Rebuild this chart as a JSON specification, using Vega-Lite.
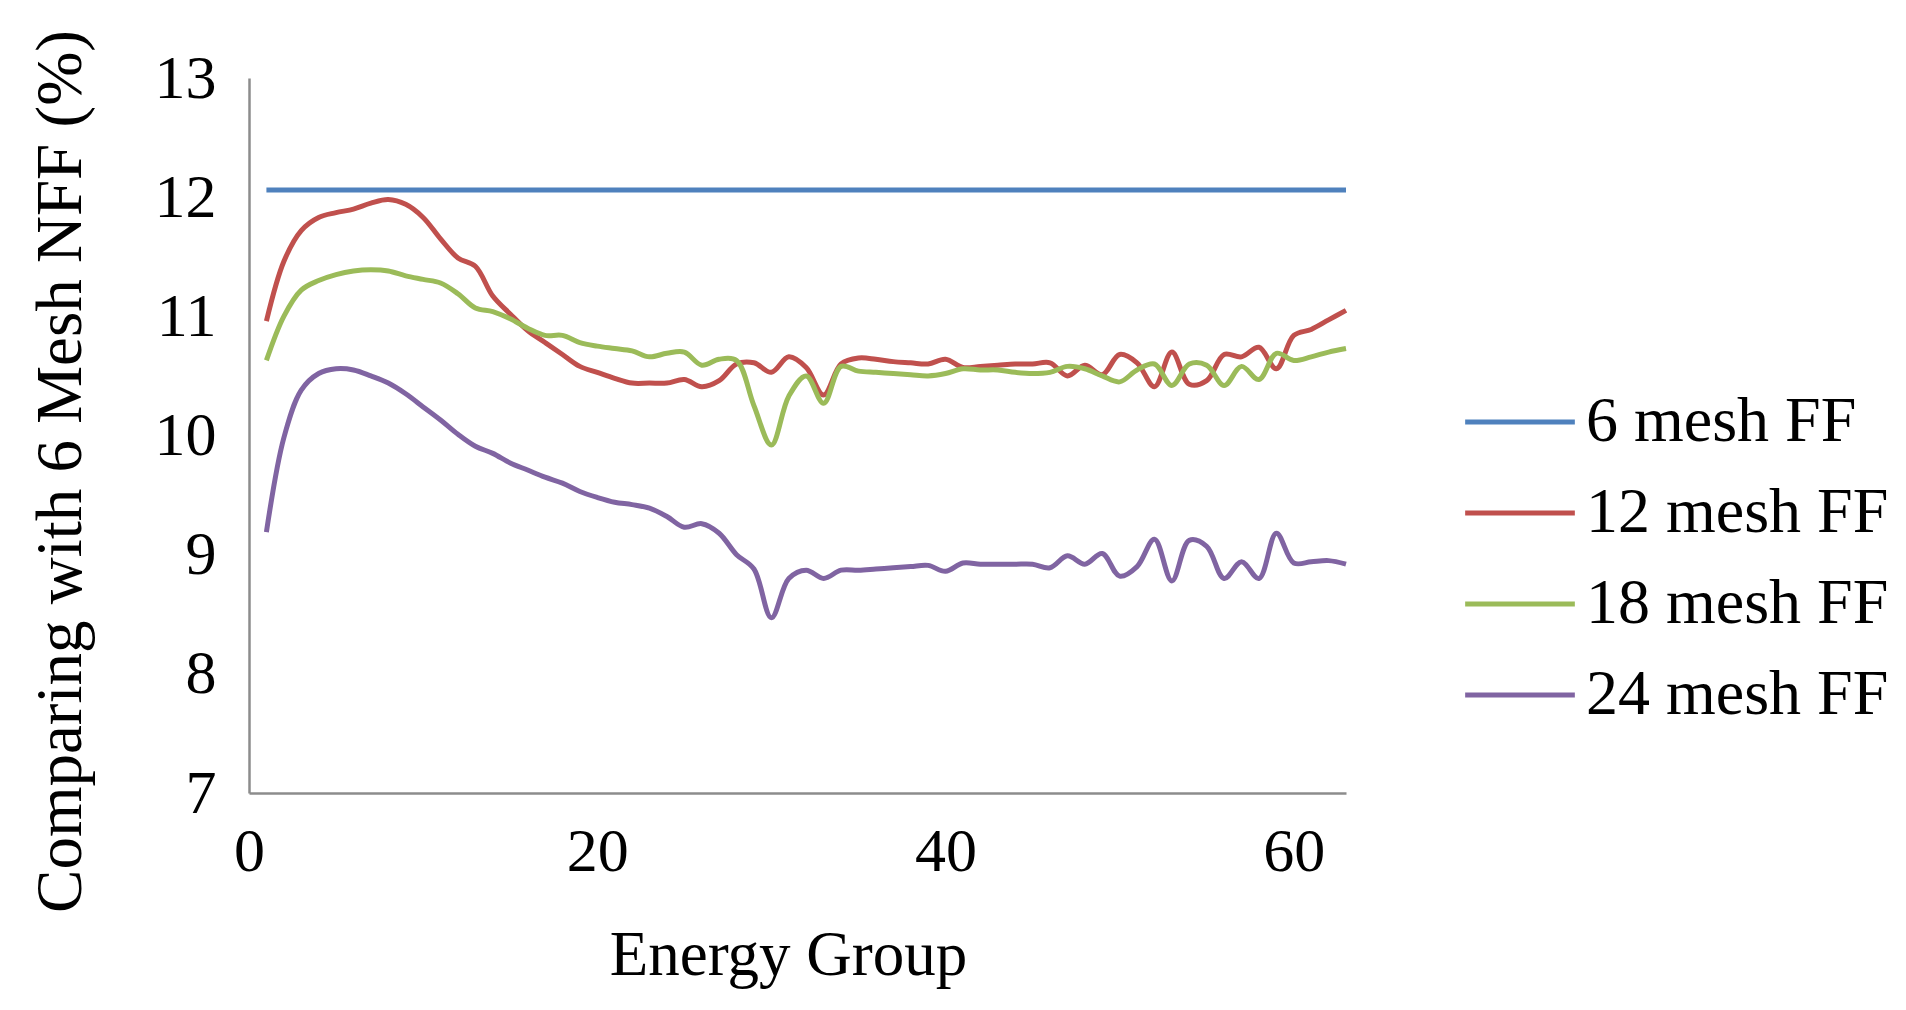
{
  "$schema": "https://vega.github.io/schema/vega-lite/v6.json",
  "width": 1097,
  "height": 715,
  "autosize": {"type": "none"},
  "padding": {"left": 249, "top": 78, "right": 560, "bottom": 217},
  "background": "white",
  "config": {
    "view": {"stroke": null},
    "font": "Liberation Serif",
    "axis": {"grid": false, "ticks": false, "domainColor": "#8c8c8c", "domainWidth": 2.5, "labelColor": "black", "titleColor": "black", "labelFont": "Liberation Serif", "titleFont": "Liberation Serif", "titleFontWeight": "normal"},
    "legend": {"labelFont": "Liberation Serif", "labelColor": "black"}
  },
  "datasets": {
    "d": [
      {"g":1,"s":"6 mesh FF","v":12.06},{"g":2,"s":"6 mesh FF","v":12.06},{"g":3,"s":"6 mesh FF","v":12.06},{"g":4,"s":"6 mesh FF","v":12.06},{"g":5,"s":"6 mesh FF","v":12.06},{"g":6,"s":"6 mesh FF","v":12.06},{"g":7,"s":"6 mesh FF","v":12.06},{"g":8,"s":"6 mesh FF","v":12.06},{"g":9,"s":"6 mesh FF","v":12.06},{"g":10,"s":"6 mesh FF","v":12.06},
      {"g":11,"s":"6 mesh FF","v":12.06},{"g":12,"s":"6 mesh FF","v":12.06},{"g":13,"s":"6 mesh FF","v":12.06},{"g":14,"s":"6 mesh FF","v":12.06},{"g":15,"s":"6 mesh FF","v":12.06},{"g":16,"s":"6 mesh FF","v":12.06},{"g":17,"s":"6 mesh FF","v":12.06},{"g":18,"s":"6 mesh FF","v":12.06},{"g":19,"s":"6 mesh FF","v":12.06},{"g":20,"s":"6 mesh FF","v":12.06},
      {"g":21,"s":"6 mesh FF","v":12.06},{"g":22,"s":"6 mesh FF","v":12.06},{"g":23,"s":"6 mesh FF","v":12.06},{"g":24,"s":"6 mesh FF","v":12.06},{"g":25,"s":"6 mesh FF","v":12.06},{"g":26,"s":"6 mesh FF","v":12.06},{"g":27,"s":"6 mesh FF","v":12.06},{"g":28,"s":"6 mesh FF","v":12.06},{"g":29,"s":"6 mesh FF","v":12.06},{"g":30,"s":"6 mesh FF","v":12.06},
      {"g":31,"s":"6 mesh FF","v":12.06},{"g":32,"s":"6 mesh FF","v":12.06},{"g":33,"s":"6 mesh FF","v":12.06},{"g":34,"s":"6 mesh FF","v":12.06},{"g":35,"s":"6 mesh FF","v":12.06},{"g":36,"s":"6 mesh FF","v":12.06},{"g":37,"s":"6 mesh FF","v":12.06},{"g":38,"s":"6 mesh FF","v":12.06},{"g":39,"s":"6 mesh FF","v":12.06},{"g":40,"s":"6 mesh FF","v":12.06},
      {"g":41,"s":"6 mesh FF","v":12.06},{"g":42,"s":"6 mesh FF","v":12.06},{"g":43,"s":"6 mesh FF","v":12.06},{"g":44,"s":"6 mesh FF","v":12.06},{"g":45,"s":"6 mesh FF","v":12.06},{"g":46,"s":"6 mesh FF","v":12.06},{"g":47,"s":"6 mesh FF","v":12.06},{"g":48,"s":"6 mesh FF","v":12.06},{"g":49,"s":"6 mesh FF","v":12.06},{"g":50,"s":"6 mesh FF","v":12.06},
      {"g":51,"s":"6 mesh FF","v":12.06},{"g":52,"s":"6 mesh FF","v":12.06},{"g":53,"s":"6 mesh FF","v":12.06},{"g":54,"s":"6 mesh FF","v":12.06},{"g":55,"s":"6 mesh FF","v":12.06},{"g":56,"s":"6 mesh FF","v":12.06},{"g":57,"s":"6 mesh FF","v":12.06},{"g":58,"s":"6 mesh FF","v":12.06},{"g":59,"s":"6 mesh FF","v":12.06},{"g":60,"s":"6 mesh FF","v":12.06},
      {"g":61,"s":"6 mesh FF","v":12.06},{"g":62,"s":"6 mesh FF","v":12.06},{"g":63,"s":"6 mesh FF","v":12.06},

      {"g":1,"s":"12 mesh FF","v":10.96},{"g":2,"s":"12 mesh FF","v":11.46},{"g":3,"s":"12 mesh FF","v":11.72},{"g":4,"s":"12 mesh FF","v":11.83},{"g":5,"s":"12 mesh FF","v":11.87},{"g":6,"s":"12 mesh FF","v":11.90},{"g":7,"s":"12 mesh FF","v":11.95},{"g":8,"s":"12 mesh FF","v":11.98},{"g":9,"s":"12 mesh FF","v":11.94},{"g":10,"s":"12 mesh FF","v":11.83},
      {"g":11,"s":"12 mesh FF","v":11.65},{"g":12,"s":"12 mesh FF","v":11.49},{"g":13,"s":"12 mesh FF","v":11.42},{"g":14,"s":"12 mesh FF","v":11.17},{"g":15,"s":"12 mesh FF","v":11.02},{"g":16,"s":"12 mesh FF","v":10.88},{"g":17,"s":"12 mesh FF","v":10.78},{"g":18,"s":"12 mesh FF","v":10.68},{"g":19,"s":"12 mesh FF","v":10.58},{"g":20,"s":"12 mesh FF","v":10.53},
      {"g":21,"s":"12 mesh FF","v":10.48},{"g":22,"s":"12 mesh FF","v":10.44},{"g":23,"s":"12 mesh FF","v":10.44},{"g":24,"s":"12 mesh FF","v":10.44},{"g":25,"s":"12 mesh FF","v":10.47},{"g":26,"s":"12 mesh FF","v":10.41},{"g":27,"s":"12 mesh FF","v":10.46},{"g":28,"s":"12 mesh FF","v":10.60},{"g":29,"s":"12 mesh FF","v":10.61},{"g":30,"s":"12 mesh FF","v":10.53},
      {"g":31,"s":"12 mesh FF","v":10.66},{"g":32,"s":"12 mesh FF","v":10.57},{"g":33,"s":"12 mesh FF","v":10.34},{"g":34,"s":"12 mesh FF","v":10.60},{"g":35,"s":"12 mesh FF","v":10.65},{"g":36,"s":"12 mesh FF","v":10.64},{"g":37,"s":"12 mesh FF","v":10.62},{"g":38,"s":"12 mesh FF","v":10.61},{"g":39,"s":"12 mesh FF","v":10.60},{"g":40,"s":"12 mesh FF","v":10.64},
      {"g":41,"s":"12 mesh FF","v":10.57},{"g":42,"s":"12 mesh FF","v":10.58},{"g":43,"s":"12 mesh FF","v":10.59},{"g":44,"s":"12 mesh FF","v":10.60},{"g":45,"s":"12 mesh FF","v":10.60},{"g":46,"s":"12 mesh FF","v":10.61},{"g":47,"s":"12 mesh FF","v":10.50},{"g":48,"s":"12 mesh FF","v":10.59},{"g":49,"s":"12 mesh FF","v":10.51},{"g":50,"s":"12 mesh FF","v":10.68},
      {"g":51,"s":"12 mesh FF","v":10.61},{"g":52,"s":"12 mesh FF","v":10.41},{"g":53,"s":"12 mesh FF","v":10.70},{"g":54,"s":"12 mesh FF","v":10.43},{"g":55,"s":"12 mesh FF","v":10.46},{"g":56,"s":"12 mesh FF","v":10.68},{"g":57,"s":"12 mesh FF","v":10.66},{"g":58,"s":"12 mesh FF","v":10.74},{"g":59,"s":"12 mesh FF","v":10.56},{"g":60,"s":"12 mesh FF","v":10.84},
      {"g":61,"s":"12 mesh FF","v":10.89},{"g":62,"s":"12 mesh FF","v":10.97},{"g":63,"s":"12 mesh FF","v":11.05},

      {"g":1,"s":"18 mesh FF","v":10.63},{"g":2,"s":"18 mesh FF","v":11.00},{"g":3,"s":"18 mesh FF","v":11.22},{"g":4,"s":"18 mesh FF","v":11.30},{"g":5,"s":"18 mesh FF","v":11.35},{"g":6,"s":"18 mesh FF","v":11.38},{"g":7,"s":"18 mesh FF","v":11.39},{"g":8,"s":"18 mesh FF","v":11.38},{"g":9,"s":"18 mesh FF","v":11.34},{"g":10,"s":"18 mesh FF","v":11.31},
      {"g":11,"s":"18 mesh FF","v":11.28},{"g":12,"s":"18 mesh FF","v":11.19},{"g":13,"s":"18 mesh FF","v":11.07},{"g":14,"s":"18 mesh FF","v":11.04},{"g":15,"s":"18 mesh FF","v":10.98},{"g":16,"s":"18 mesh FF","v":10.90},{"g":17,"s":"18 mesh FF","v":10.84},{"g":18,"s":"18 mesh FF","v":10.84},{"g":19,"s":"18 mesh FF","v":10.78},{"g":20,"s":"18 mesh FF","v":10.75},
      {"g":21,"s":"18 mesh FF","v":10.73},{"g":22,"s":"18 mesh FF","v":10.71},{"g":23,"s":"18 mesh FF","v":10.66},{"g":24,"s":"18 mesh FF","v":10.69},{"g":25,"s":"18 mesh FF","v":10.70},{"g":26,"s":"18 mesh FF","v":10.59},{"g":27,"s":"18 mesh FF","v":10.64},{"g":28,"s":"18 mesh FF","v":10.63},{"g":29,"s":"18 mesh FF","v":10.25},{"g":30,"s":"18 mesh FF","v":9.92},
      {"g":31,"s":"18 mesh FF","v":10.33},{"g":32,"s":"18 mesh FF","v":10.50},{"g":33,"s":"18 mesh FF","v":10.27},{"g":34,"s":"18 mesh FF","v":10.58},{"g":35,"s":"18 mesh FF","v":10.54},{"g":36,"s":"18 mesh FF","v":10.53},{"g":37,"s":"18 mesh FF","v":10.52},{"g":38,"s":"18 mesh FF","v":10.51},{"g":39,"s":"18 mesh FF","v":10.50},{"g":40,"s":"18 mesh FF","v":10.52},
      {"g":41,"s":"18 mesh FF","v":10.56},{"g":42,"s":"18 mesh FF","v":10.55},{"g":43,"s":"18 mesh FF","v":10.55},{"g":44,"s":"18 mesh FF","v":10.53},{"g":45,"s":"18 mesh FF","v":10.52},{"g":46,"s":"18 mesh FF","v":10.53},{"g":47,"s":"18 mesh FF","v":10.58},{"g":48,"s":"18 mesh FF","v":10.56},{"g":49,"s":"18 mesh FF","v":10.50},{"g":50,"s":"18 mesh FF","v":10.45},
      {"g":51,"s":"18 mesh FF","v":10.55},{"g":52,"s":"18 mesh FF","v":10.60},{"g":53,"s":"18 mesh FF","v":10.42},{"g":54,"s":"18 mesh FF","v":10.60},{"g":55,"s":"18 mesh FF","v":10.59},{"g":56,"s":"18 mesh FF","v":10.42},{"g":57,"s":"18 mesh FF","v":10.58},{"g":58,"s":"18 mesh FF","v":10.47},{"g":59,"s":"18 mesh FF","v":10.69},{"g":60,"s":"18 mesh FF","v":10.63},
      {"g":61,"s":"18 mesh FF","v":10.66},{"g":62,"s":"18 mesh FF","v":10.70},{"g":63,"s":"18 mesh FF","v":10.73},

      {"g":1,"s":"24 mesh FF","v":9.19},{"g":2,"s":"24 mesh FF","v":9.98},{"g":3,"s":"24 mesh FF","v":10.38},{"g":4,"s":"24 mesh FF","v":10.52},{"g":5,"s":"24 mesh FF","v":10.56},{"g":6,"s":"24 mesh FF","v":10.55},{"g":7,"s":"24 mesh FF","v":10.50},{"g":8,"s":"24 mesh FF","v":10.44},{"g":9,"s":"24 mesh FF","v":10.35},{"g":10,"s":"24 mesh FF","v":10.24},
      {"g":11,"s":"24 mesh FF","v":10.13},{"g":12,"s":"24 mesh FF","v":10.01},{"g":13,"s":"24 mesh FF","v":9.91},{"g":14,"s":"24 mesh FF","v":9.85},{"g":15,"s":"24 mesh FF","v":9.77},{"g":16,"s":"24 mesh FF","v":9.71},{"g":17,"s":"24 mesh FF","v":9.65},{"g":18,"s":"24 mesh FF","v":9.60},{"g":19,"s":"24 mesh FF","v":9.53},{"g":20,"s":"24 mesh FF","v":9.48},
      {"g":21,"s":"24 mesh FF","v":9.44},{"g":22,"s":"24 mesh FF","v":9.42},{"g":23,"s":"24 mesh FF","v":9.39},{"g":24,"s":"24 mesh FF","v":9.32},{"g":25,"s":"24 mesh FF","v":9.23},{"g":26,"s":"24 mesh FF","v":9.26},{"g":27,"s":"24 mesh FF","v":9.18},{"g":28,"s":"24 mesh FF","v":9.00},{"g":29,"s":"24 mesh FF","v":8.88},{"g":30,"s":"24 mesh FF","v":8.47},
      {"g":31,"s":"24 mesh FF","v":8.80},{"g":32,"s":"24 mesh FF","v":8.87},{"g":33,"s":"24 mesh FF","v":8.80},{"g":34,"s":"24 mesh FF","v":8.87},{"g":35,"s":"24 mesh FF","v":8.87},{"g":36,"s":"24 mesh FF","v":8.88},{"g":37,"s":"24 mesh FF","v":8.89},{"g":38,"s":"24 mesh FF","v":8.90},{"g":39,"s":"24 mesh FF","v":8.91},{"g":40,"s":"24 mesh FF","v":8.86},
      {"g":41,"s":"24 mesh FF","v":8.93},{"g":42,"s":"24 mesh FF","v":8.92},{"g":43,"s":"24 mesh FF","v":8.92},{"g":44,"s":"24 mesh FF","v":8.92},{"g":45,"s":"24 mesh FF","v":8.92},{"g":46,"s":"24 mesh FF","v":8.89},{"g":47,"s":"24 mesh FF","v":8.99},{"g":48,"s":"24 mesh FF","v":8.92},{"g":49,"s":"24 mesh FF","v":9.01},{"g":50,"s":"24 mesh FF","v":8.82},
      {"g":51,"s":"24 mesh FF","v":8.90},{"g":52,"s":"24 mesh FF","v":9.13},{"g":53,"s":"24 mesh FF","v":8.78},{"g":54,"s":"24 mesh FF","v":9.12},{"g":55,"s":"24 mesh FF","v":9.07},{"g":56,"s":"24 mesh FF","v":8.80},{"g":57,"s":"24 mesh FF","v":8.94},{"g":58,"s":"24 mesh FF","v":8.80},{"g":59,"s":"24 mesh FF","v":9.18},{"g":60,"s":"24 mesh FF","v":8.93},
      {"g":61,"s":"24 mesh FF","v":8.94},{"g":62,"s":"24 mesh FF","v":8.95},{"g":63,"s":"24 mesh FF","v":8.92}
    ]
  },
  "data": {"name": "d"},
  "mark": {"type": "line", "interpolate": "catmull-rom", "strokeWidth": 5, "clip": false},
  "encoding": {
    "x": {
      "field": "g", "type": "quantitative",
      "scale": {"domain": [0, 63], "nice": false, "zero": false},
      "axis": {"values": [0, 20, 40, 60], "labelFontSize": 62, "labelPadding": 28, "title": "Energy Group", "titleFontSize": 63, "titleBaseline": "alphabetic", "titleX": 539, "titleY": 181, "labelFlush": false, "labelOverlap": false}
    },
    "y": {
      "field": "v", "type": "quantitative",
      "scale": {"domain": [7, 13], "nice": false, "zero": false},
      "axis": {"values": [7, 8, 9, 10, 11, 12, 13], "labelFontSize": 62, "labelPadding": 33, "title": "Comparing with 6 Mesh NFF (%)", "titleFontSize": 65, "titleBaseline": "alphabetic", "titleAngle": -90, "titleX": -169, "titleY": 393, "labelFlush": false, "labelOverlap": false}
    },
    "color": {
      "field": "s", "type": "nominal",
      "scale": {"domain": ["6 mesh FF", "12 mesh FF", "18 mesh FF", "24 mesh FF"], "range": ["#4F81BD", "#C0504D", "#9BBB59", "#8064A2"]},
      "legend": {"title": null, "orient": "none", "legendX": 1234, "legendY": 307, "padding": 0, "symbolType": "M-1.6,0L1.6,0", "symbolSize": 4700, "symbolStrokeWidth": 5, "labelFontSize": 64, "labelOffset": 29, "rowPadding": 22, "labelLimit": 600}
    }
  }
}
